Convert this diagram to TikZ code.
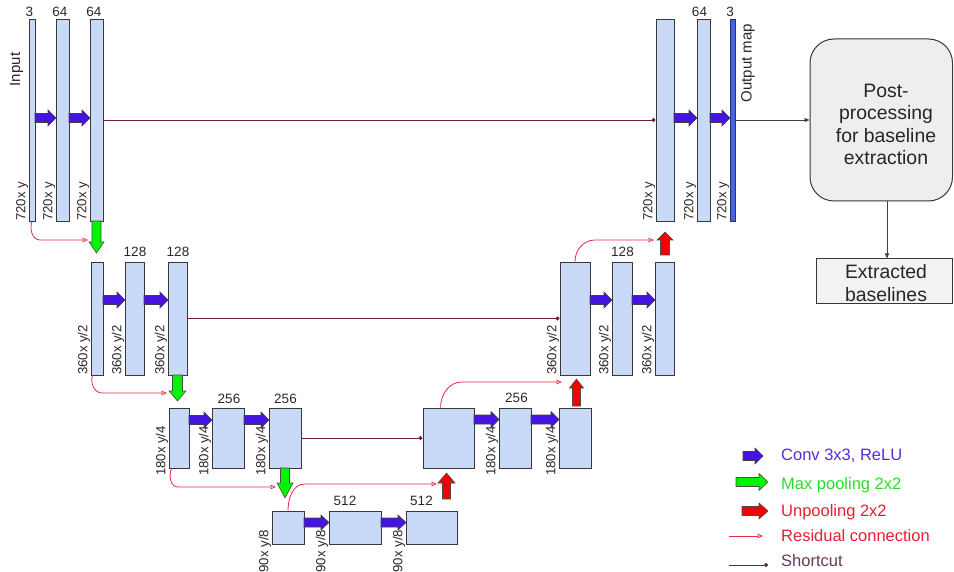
\documentclass[tikz,border=0pt]{standalone}
\usepackage{fontspec}
\setmainfont{Liberation Sans}
\usetikzlibrary{arrows.meta,fit,calc}
\definecolor{boxfill}{RGB}{201,218,248}
\definecolor{boxdraw}{RGB}{55,55,60}
\definecolor{convc}{RGB}{70,20,225}
\definecolor{convtxt}{RGB}{85,45,215}
\definecolor{poolc}{RGB}{0,245,0}
\definecolor{pooltxt}{RGB}{40,220,40}
\definecolor{unpc}{RGB}{245,0,0}
\definecolor{redtxt}{RGB}{232,30,50}
\definecolor{resc}{RGB}{232,40,70}
\definecolor{shc}{RGB}{116,27,71}
\definecolor{shtxt}{RGB}{105,55,90}
\definecolor{outc}{RGB}{70,100,225}
\definecolor{outd}{RGB}{40,50,120}
\definecolor{postfill}{RGB}{238,238,238}
\definecolor{extfill}{RGB}{243,243,243}
\definecolor{txt}{RGB}{40,40,40}
% right-pointing block arrow: style, tail x, tip x, y, half shaft, half head, head length
\newcommand\fatR[7]{\filldraw[#1] (#2,#4-#5) -- (#3-#7,#4-#5) -- (#3-#7,#4-#6) -- (#3,#4) -- (#3-#7,#4+#6) -- (#3-#7,#4+#5) -- (#2,#4+#5) -- cycle;}
% downward block arrow: style, x, tail y, tip y, half shaft, half head, head length
\newcommand\fatD[7]{\filldraw[#1] (#2-#5,#3) -- (#2-#5,#4-#7) -- (#2-#6,#4-#7) -- (#2,#4) -- (#2+#6,#4-#7) -- (#2+#5,#4-#7) -- (#2+#5,#3) -- cycle;}
% upward block arrow
\newcommand\fatU[7]{\filldraw[#1] (#2-#5,#3) -- (#2-#5,#4+#7) -- (#2-#6,#4+#7) -- (#2,#4) -- (#2+#6,#4+#7) -- (#2+#5,#4+#7) -- (#2+#5,#3) -- cycle;}
\tikzset{
 blk/.style={draw=boxdraw, fill=boxfill, line width=0.9pt, inner sep=0pt},
 dim/.style={rotate=90, anchor=south west, inner sep=0.3pt, font=\fontsize{13.2}{14}\selectfont, text=txt},
 num/.style={anchor=base, inner sep=0pt, font=\fontsize{13.5}{14}\selectfont, text=txt},
 conv/.style={fill=convc, draw=black!75, line width=0.6pt},
 pool/.style={fill=poolc, draw=black!70, line width=0.6pt},
 unpool/.style={fill=unpc, draw=black!70, line width=0.6pt},
 res/.style={draw=resc, line width=0.8pt, -{Triangle[open, length=5.5pt, width=4.5pt]}},
 short/.style={draw=shc, line width=0.8pt, -{Circle[length=4pt]}},
 flow/.style={draw=black!75, line width=0.8pt, -{Triangle[length=5pt, width=4pt]}},
 legtxt/.style={anchor=base west, inner sep=0pt, font=\fontsize{16.5}{18}\selectfont},
 big/.style={align=center, inner sep=0pt, font=\fontsize{19.4}{22.5}\selectfont, text=black!85},
}
\begin{document}
\begin{tikzpicture}[x=1pt,y=-1pt]
\useasboundingbox (0,0) rectangle (954,572);
% ---------- boxes ----------
\node[blk, fit={(29,19) (35,221)}] (A1) {};
\node[blk, fit={(56,19) (69,221)}] (A2) {};
\node[blk, fit={(90,19) (103,221)}] (A3) {};
\node[blk, fit={(656,19) (674,221)}] (B1) {};
\node[blk, fit={(697,19) (710,221)}] (B2) {};
\node[blk, fill=outc, draw=outd, fit={(730,19) (735,221)}] (B3) {};
\node[blk, fit={(91,262) (103,375)}] (C1) {};
\node[blk, fit={(125,262) (144,375)}] (C2) {};
\node[blk, fit={(168,262) (187,375)}] (C3) {};
\node[blk, fit={(560,262) (590,375)}] (D1) {};
\node[blk, fit={(612,262) (632,375)}] (D2) {};
\node[blk, fit={(655,262) (674,375)}] (D3) {};
\node[blk, fit={(169,408) (189,468)}] (F1) {};
\node[blk, fit={(212,408) (244,468)}] (F2) {};
\node[blk, fit={(269,408) (301,468)}] (F3) {};
\node[blk, fit={(423,408) (474,468)}] (E1) {};
\node[blk, fit={(499,408) (531,468)}] (E2) {};
\node[blk, fit={(559,408) (591,468)}] (E3) {};
\node[blk, fit={(272,511) (304,544)}] (G1) {};
\node[blk, fit={(329,511) (381,544)}] (G2) {};
\node[blk, fit={(406,511) (457,544)}] (G3) {};
% ---------- channel numbers ----------
\node[num] (nA1) at (29.5,16.5) {3};
\node[num] (nA2) at (60,16.5) {64};
\node[num] (nA3) at (94,16.5) {64};
\node[num] (nB2) at (699.5,16.5) {64};
\node[num] (nB3) at (730,16.5) {3};
\node[num] (nC2) at (135,257) {128};
\node[num] (nC3) at (178,257) {128};
\node[num] (nD2) at (622.5,257) {128};
\node[num] (nF2) at (229,403) {256};
\node[num] (nF3) at (285.5,403) {256};
\node[num] (nE2) at (516.5,402) {256};
\node[num] (nG2) at (345,505) {512};
\node[num] (nG3) at (421.5,505) {512};
% ---------- size labels ----------
\node[dim] (lA1) at (A1.south west) {720x y};
\node[dim] (lA2) at (A2.south west) {720x y};
\node[dim] (lA3) at (A3.south west) {720x y};
\node[dim] (lB1) at (B1.south west) {720x y};
\node[dim] (lB2) at (B2.south west) {720x y};
\node[dim] (lB3) at (B3.south west) {720x y};
\node[dim] (lC1) at (C1.south west) {360x y/2};
\node[dim] (lC2) at (C2.south west) {360x y/2};
\node[dim] (lC3) at (C3.south west) {360x y/2};
\node[dim] (lD1) at (D1.south west) {360x y/2};
\node[dim] (lD2) at (D2.south west) {360x y/2};
\node[dim] (lD3) at (D3.south west) {360x y/2};
\node[dim] (lF1) at ([yshift=-8pt]F1.south west) {180x y/4};
\node[dim] (lF2) at ([yshift=-8pt]F2.south west) {180x y/4};
\node[dim] (lF3) at ([yshift=-8pt]F3.south west) {180x y/4};
\node[dim] (lE2) at ([yshift=-8pt]E2.south west) {180x y/4};
\node[dim] (lE3) at ([yshift=-8pt]E3.south west) {180x y/4};
\node[dim] (lG1) at ([yshift=-28.5pt]G1.south west) {90x y/8};
\node[dim] (lG2) at ([yshift=-28.5pt]G2.south west) {90x y/8};
\node[dim] (lG3) at ([yshift=-28.5pt]G3.south west) {90x y/8};
\node[rotate=90, inner sep=0pt, font=\fontsize{15}{16}\selectfont, text=txt] (inp) at (16.5,69.5) {Input};
\node[rotate=90, inner sep=0pt, font=\fontsize{15}{16}\selectfont, text=txt] (outm) at (748,63) {Output map};
% ---------- post-processing ----------
\node[draw=boxdraw, fill=postfill, rounded corners=24pt, line width=1pt, inner sep=0pt, fit={(810,39) (952.5,201)}] (post) {};
\node[big] (postt) at (886,124.5) {Post-\\processing\\for baseline\\extraction};
\node[draw=boxdraw, fill=extfill, line width=1pt, inner sep=0pt, fit={(816,259) (952.5,304)}] (extr) {};
\node[big] (extrt) at (886,283) {Extracted\\baselines};
% ---------- shortcuts and flow ----------
\draw[short] (A3.east) -- (B1.west);
\draw[short] (C3.east) -- (D1.west);
\draw[short] (F3.east) -- (E1.west);
\draw[flow] (B3.east) -- (post.west);
\coordinate (pc) at (887,0);
\draw[flow] (post.south -| pc) -- (extr.north -| pc);
% ---------- block arrows ----------
\fatR{conv}{35}{56}{118}{4.5}{8}{8}
\fatR{conv}{69}{90}{118}{4.5}{8}{8}
\fatR{conv}{674}{697}{118}{4.5}{8}{8}
\fatR{conv}{710}{730}{118}{4.5}{8}{8}
\fatR{conv}{103}{125}{300}{4.5}{8}{8}
\fatR{conv}{144}{168}{300}{4.5}{8}{8}
\fatR{conv}{590}{612}{300}{4.5}{8}{8}
\fatR{conv}{632}{655}{300}{4.5}{8}{8}
\fatR{conv}{189}{212}{420}{4.5}{8}{8}
\fatR{conv}{244}{269}{420}{4.5}{8}{8}
\fatR{conv}{474}{499}{419.5}{4.5}{8}{8}
\fatR{conv}{531}{559}{419.5}{4.5}{8}{8}
\fatR{conv}{304}{329}{522.5}{4.5}{7.5}{8}
\fatR{conv}{381}{406}{522.5}{4.5}{7.5}{8}
\fatD{pool}{96.5}{221}{253}{4.5}{7.5}{11}
\fatD{pool}{177.5}{375}{401}{5}{8.5}{10}
\fatD{pool}{285}{468}{498}{4.5}{8}{15}
\fatU{unpool}{665}{255}{232}{4.5}{8}{8}
\fatU{unpool}{576.5}{406}{379}{4}{7}{9}
\fatU{unpool}{446.5}{499}{473}{4}{8.5}{10}
% ---------- residual connections ----------
\coordinate (r1e) at (88,240);
\draw[res] (A1.south) to[out=-110,in=180] (40,240) -- (r1e);
\coordinate (r2e) at (167,393);
\draw[res] ([xshift=2pt]C1.south west) to[out=-110,in=180] (102,393) -- (r2e);
\coordinate (r3e) at (276,487);
\draw[res] ([xshift=3pt]F1.south west) to[out=-115,in=180] (178,487) -- (r3e);
\coordinate (r4e) at (437,484);
\draw[res] (G1.north) to[out=90,in=180] (305,484) -- (r4e);
\coordinate (r5e) at (562,382);
\draw[res] ([xshift=18pt]E1.north west) to[out=90,in=180] (462,382) -- (r5e);
\coordinate (r6e) at (654,240);
\draw[res] (D1.north) to[out=90,in=180] (595,240) -- (r6e);
% ---------- legend ----------
\fatR{conv}{743}{763}{456}{4.5}{8}{8}
\node[legtxt, text=convtxt] (lg1) at (781,460) {Conv 3x3, ReLU};
\fatR{pool}{736}{768}{482}{4.5}{8.5}{9}
\node[legtxt, text=pooltxt] (lg2) at (781,489) {Max pooling 2x2};
\fatR{unpool}{742}{768}{511}{4.5}{8}{9}
\node[legtxt, text=redtxt] (lg3) at (781,516.5) {Unpooling 2x2};
\coordinate (lr1) at (729,536);
\coordinate (lr2) at (763,536);
\draw[res] (lr1) -- (lr2);
\node[legtxt, text=redtxt] (lg4) at (781,541.5) {Residual connection};
\coordinate (ls1) at (729,565);
\coordinate (ls2) at (768,565);
\draw[short] (ls1) -- (ls2);
\node[legtxt, text=shtxt] (lg5) at (781,566.5) {Shortcut};
\end{tikzpicture}
\end{document}
